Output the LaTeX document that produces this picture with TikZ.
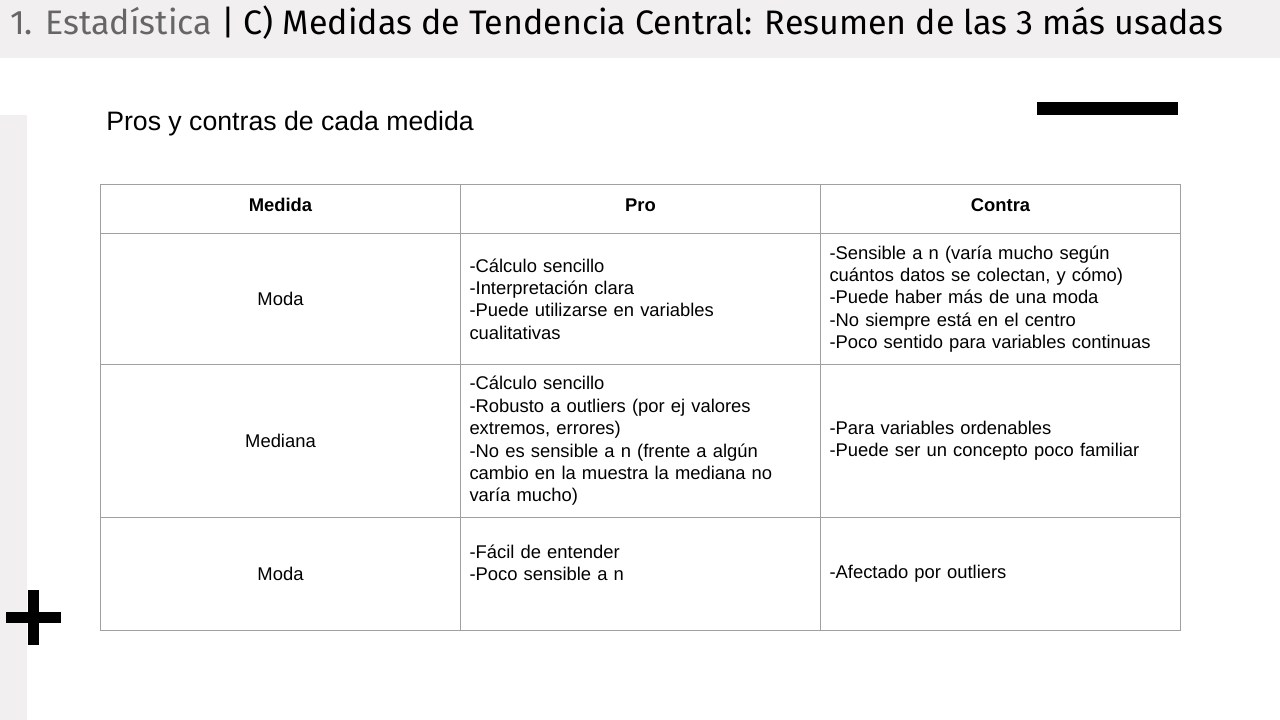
\documentclass[tikz,border=0pt]{standalone}
\usepackage{fontspec}
\setmainfont{Liberation Sans}
\newfontfamily\titlefont{Fira Sans}
\definecolor{panelgray}{HTML}{F1EFEF}
\definecolor{rulegray}{HTML}{A0A0A0}
\definecolor{titlegray}{HTML}{666666}

\tikzset{
  cell/.style={draw=rulegray, line width=0.75pt, anchor=north west,
    minimum width=270pt, inner xsep=6.75pt, inner ysep=0pt,
    text width=256.5pt, font=\fontsize{13.8}{16.8}\selectfont},
  headcell/.style={cell, align=center, minimum height=36.75pt, text depth=6.2pt,
    font=\fontsize{13.8}{16.8}\selectfont\bfseries},
}

\begin{document}
\begin{tikzpicture}[x=0.75pt,y=-0.75pt]
\useasboundingbox (0,0) rectangle (1280,720);

\fill[panelgray] (0,0) rectangle (1280,58);
\fill[panelgray] (0,115) rectangle (27,720);
\fill[black] (1037,102) rectangle (1178,115);
\fill[black] (6,612) rectangle (61,623);
\fill[black] (28,590) rectangle (39,645);

\node[anchor=base west, inner sep=0pt, font=\titlefont\fontsize{25.5}{25.5}\selectfont] (title) at (10,35)
{\textcolor{titlegray}{1. Estadística} | C) Medidas de Tendencia Central: Resumen de las 3 más usadas};

\node[anchor=base west, inner sep=0pt, font=\fontsize{20}{22}\selectfont] (sub) at (106,131)
{Pros y contras de cada medida};

\node[headcell] (medida) at (100,184) {Medida};
\node[headcell] (pro) at (460,184) {Pro};
\node[headcell] (contra) at (820,184) {Contra};

\node[cell, align=center, minimum height=98.25pt] (moda) at (100,233) {Moda};
\node[cell, align=left, minimum height=98.25pt] (modapro) at (460,233)
{-Cálculo sencillo\\-Interpretación clara\\-Puede utilizarse en variables\\cualitativas};
\node[cell, align=left, minimum height=98.25pt] (modacontra) at (820,233)
{-Sensible a n (varía mucho según\\cuántos datos se colectan, y cómo)\\-Puede haber más de una moda\\-No siempre está en el centro\\-Poco sentido para variables continuas};

\node[cell, align=center, minimum height=114.75pt] (mediana) at (100,364) {Mediana};
\node[cell, align=left, minimum height=114.75pt] (medianapro) at (460,364)
{-Cálculo sencillo\\-Robusto a outliers (por ej valores\\extremos, errores)\\-No es sensible a n (frente a algún\\cambio en la muestra la mediana no\\varía mucho)};
\node[cell, align=left, minimum height=114.75pt] (medianacontra) at (820,364)
{-Para variables ordenables\\-Puede ser un concepto poco familiar};

\node[cell, align=center, minimum height=84.75pt] (moda2) at (100,517) {Moda};
\node[cell, align=left, minimum height=84.75pt] (moda2pro) at (460,517)
{-Fácil de entender\\-Poco sensible a n\\\mbox{}};
\node[cell, align=left, minimum height=84.75pt] (moda2contra) at (820,517)
{-Afectado por outliers};
\end{tikzpicture}
\end{document}
